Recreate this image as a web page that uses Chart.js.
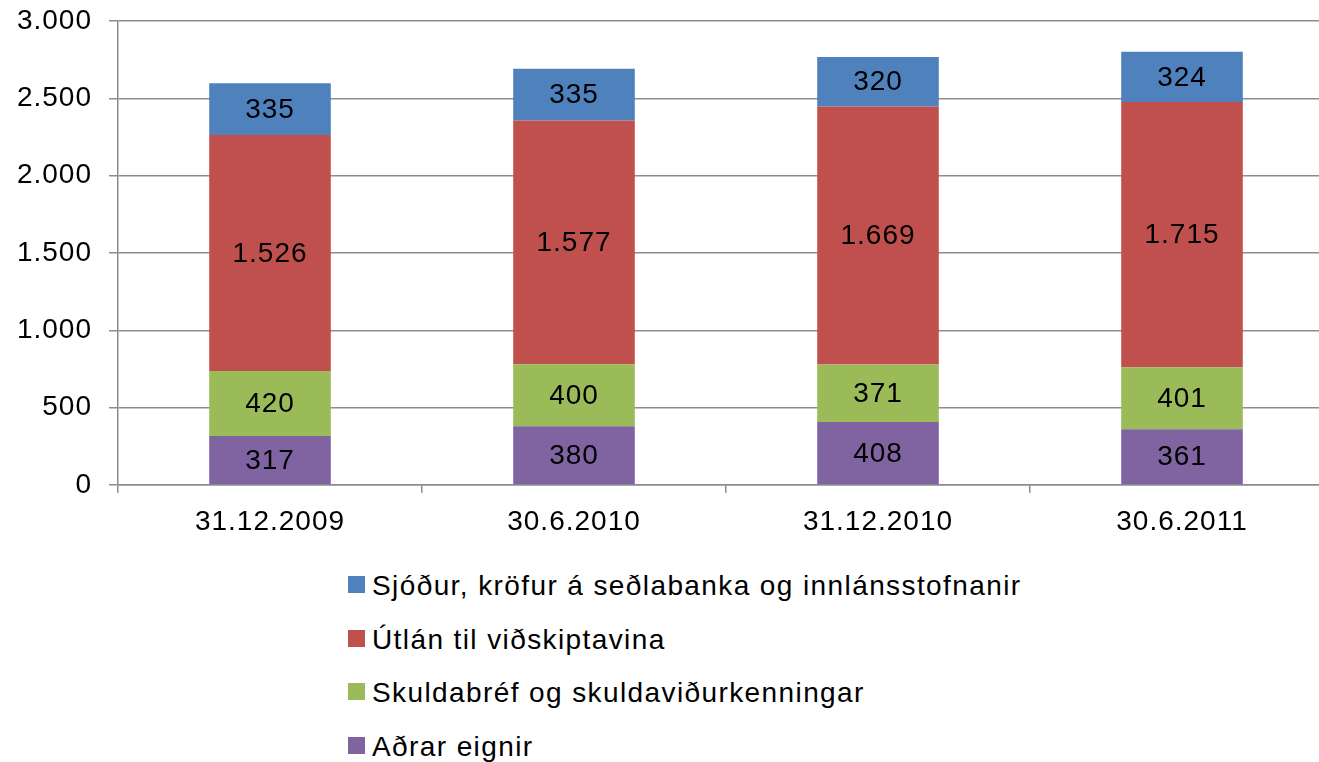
<!DOCTYPE html>
<html>
<head>
<meta charset="utf-8">
<script src="https://cdn.jsdelivr.net/npm/chart.js"></script>
<style>
  body { margin: 0; background: #fff; font-family: "Liberation Sans", Arial, sans-serif; overflow: hidden; }
  #wrap { position: relative; width: 1319px; height: 762px; overflow: hidden; }
  #legend { position: absolute; left: 348px; top: 576px; }
  .item { height: 53.5px; display: flex; align-items: flex-start; font-size: 28px; line-height: 17px; letter-spacing: 1.4px; color: #000; }
  .box { width: 17px; height: 17px; margin-right: 7px; flex: none; }
  .item span { position: relative; top: 1px; }
</style>
</head>
<body>
<div id="wrap">
  <canvas id="chart" width="1340" height="545" style="display:block"></canvas>
  <div id="legend"></div>
</div>
<script>
// data, bottom segment first
const categories = ["31.12.2009", "30.6.2010", "31.12.2010", "30.6.2011"];
const seriesNames = ["Aðrar eignir", "Skuldabréf og skuldaviðurkenningar", "Útlán til viðskiptavina", "Sjóður, kröfur á seðlabanka og innlánsstofnanir"];
const adrarEignir = [317, 380, 408, 361];
const skuldabref = [420, 400, 371, 401];
const utlan = [1526, 1577, 1669, 1715];
const sjodur = [335, 335, 320, 324];
const yTicks = [0, 500, 1000, 1500, 2000, 2500, 3000];
const colors = ["#8064A2", "#9BBB59", "#C0504D", "#4F81BD"];

const fmt = v => String(v).replace(/\B(?=(\d{3})+(?!\d))/g, ".");
const font = { family: "'Liberation Sans', Arial, sans-serif", size: 28 };

// draws the value in the middle of each segment
const barLabels = {
  id: "barLabels",
  beforeDraw(chart) {
    chart.ctx.letterSpacing = "1px";
  },
  afterDatasetsDraw(chart) {
    const ctx = chart.ctx;
    ctx.save();
    ctx.font = "28px 'Liberation Sans', Arial, sans-serif";
    ctx.fillStyle = "#000";
    ctx.textAlign = "center";
    ctx.textBaseline = "middle";
    chart.data.datasets.forEach((ds, i) => {
      chart.getDatasetMeta(i).data.forEach((bar, j) => {
        const mid = (bar.y + bar.base) / 2;
        ctx.fillText(fmt(ds.data[j]), bar.x, mid + 1);
      });
    });
    ctx.restore();
  }
};

const allSeries = [adrarEignir, skuldabref, utlan, sjodur];

new Chart(document.getElementById("chart"), {
  type: "bar",
  data: {
    labels: categories,
    datasets: allSeries.map((d, i) => ({
      label: seriesNames[i],
      data: d,
      backgroundColor: colors[i],
      borderWidth: 0,
      categoryPercentage: 1,
      barPercentage: 0.4
    }))
  },
  options: {
    responsive: false,
    animation: false,
    layout: { padding: { top: 21, right: 6, left: 0, bottom: 0 } },
    plugins: { legend: { display: false }, tooltip: { enabled: false } },
    scales: {
      x: {
        stacked: true,
        grid: { display: true, drawOnChartArea: false, offset: true, tickLength: 8, color: "#8c8c8c", lineWidth: 1.5 },
        border: { color: "#8c8c8c", width: 1.5 },
        ticks: { color: "#000", font: font, padding: 12 },
        afterFit(s) { s.height = 60; s.paddingLeft = 0; s.paddingRight = 0; }
      },
      y: {
        stacked: true,
        min: 0,
        max: 3000,
        afterBuildTicks(s) { s.ticks = yTicks.map(v => ({ value: v })); },
        grid: { color: "#8c8c8c", lineWidth: 1.5, tickLength: 9 },
        border: { color: "#8c8c8c", width: 1.5 },
        ticks: { color: "#000", font: font, padding: 17, callback: v => fmt(v) },
        afterFit(s) { s.width = 118; s.paddingTop = 0; s.paddingBottom = 0; }
      }
    }
  },
  plugins: [barLabels]
});

// legend, top series first
const legend = document.getElementById("legend");
for (let i = seriesNames.length - 1; i >= 0; i--) {
  const row = document.createElement("div");
  row.className = "item";
  row.innerHTML = '<div class="box" style="background:' + colors[i] + '"></div><span>' + seriesNames[i] + '</span>';
  legend.appendChild(row);
}
</script>
</body>
</html>
